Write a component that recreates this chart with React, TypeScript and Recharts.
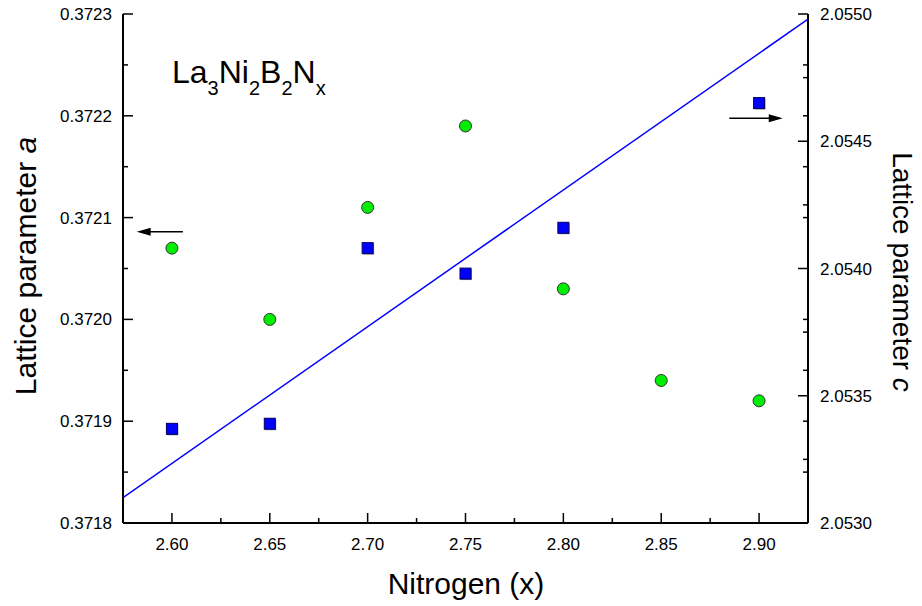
import React from "react";
import { ComposedChart, ReferenceLine, Scatter, XAxis, YAxis } from "recharts";

// nitrogen content x and lattice parameter a (left axis, nm)
const nitrogenA = [2.6, 2.65, 2.7, 2.75, 2.8, 2.85, 2.9];
const latticeA = [0.37207, 0.372, 0.37211, 0.37219, 0.37203, 0.37194, 0.37192];

// nitrogen content x and lattice parameter c (right axis)
const nitrogenC = [2.6, 2.65, 2.7, 2.75, 2.8, 2.9];
const latticeC = [2.05337, 2.05339, 2.05408, 2.05398, 2.05416, 2.05465];

// linear fit drawn against the c axis
const fitX = [2.575, 2.925];
const fitC = [2.0531, 2.05498];

// arrows pointing to the matching axis
const arrowLeftX = [2.6056, 2.582];
const arrowLeftA = 0.372086;
const arrowRightX = [2.8848, 2.9121];
const arrowRightC = 2.05459;

const xMajor = [2.6, 2.65, 2.7, 2.75, 2.8, 2.85, 2.9];
const xMinor = [2.575, 2.625, 2.675, 2.725, 2.775, 2.825, 2.875, 2.925];
const aMajor = [0.3718, 0.3719, 0.372, 0.3721, 0.3722, 0.3723];
const aMinor = [0.37185, 0.37195, 0.37205, 0.37215, 0.37225];
const cMajor = [2.053, 2.0535, 2.054, 2.0545, 2.055];
const cMinor = [2.05325, 2.05375, 2.05425, 2.05475];

const xDomain = [2.575, 2.925];
const aDomain = [0.3718, 0.3723];
const cDomain = [2.053, 2.055];

const FONT = "'Liberation Sans', Arial, sans-serif";
const MAJOR_LEN = 10;
const MINOR_LEN = 5;

const greenData = nitrogenA.map((x, i) => ({ x, a: latticeA[i] }));
const blueData = nitrogenC.map((x, i) => ({ x, c: latticeC[i] }));
const fitData = fitX.map((x, i) => ({ x, c: fitC[i] }));

// the right frame also carries the a-axis ticks (mirrored), mapped onto c
const aToC = (a: number) =>
  cDomain[0] + ((a - aDomain[0]) / (aDomain[1] - aDomain[0])) * (cDomain[1] - cDomain[0]);
const cOwn = [...cMajor, ...cMinor];
const cMirror = [...aMajor, ...aMinor]
  .map(aToC)
  .filter((v) => !cOwn.some((c) => Math.abs(c - v) < 1e-7));

const xMajorSet = new Set(xMajor);
const aMajorSet = new Set(aMajor);
const cMajorSet = new Set(cMajor);

const BottomTick = ({ x, y, payload }: any) => {
  const major = xMajorSet.has(payload.value);
  return (
    <g>
      <line x1={x} y1={y} x2={x} y2={y - (major ? MAJOR_LEN : MINOR_LEN)} stroke="#000" strokeWidth={1.5} />
      {major && (
        <text x={x} y={y + 27} textAnchor="middle" fontSize={17} fontFamily={FONT} fill="#000">
          {payload.value.toFixed(2)}
        </text>
      )}
    </g>
  );
};

const TopTick = ({ x, y, payload }: any) => {
  const major = xMajorSet.has(payload.value);
  return <line x1={x} y1={y} x2={x} y2={y + (major ? MAJOR_LEN : MINOR_LEN)} stroke="#000" strokeWidth={1.5} />;
};

const LeftTick = ({ x, y, payload }: any) => {
  const major = aMajorSet.has(payload.value);
  return (
    <g>
      <line x1={x} y1={y} x2={x + (major ? MAJOR_LEN : MINOR_LEN)} y2={y} stroke="#000" strokeWidth={1.5} />
      {major && (
        <text x={x - 11} y={y + 6} textAnchor="end" fontSize={17} fontFamily={FONT} fill="#000">
          {payload.value.toFixed(4)}
        </text>
      )}
    </g>
  );
};

const RightTick = ({ x, y, payload }: any) => {
  const major = cMajorSet.has(payload.value);
  return (
    <g>
      <line x1={x} y1={y} x2={x - (major ? MAJOR_LEN : MINOR_LEN)} y2={y} stroke="#000" strokeWidth={1.5} />
      {major && (
        <text x={x + 12} y={y + 6} textAnchor="start" fontSize={17} fontFamily={FONT} fill="#000">
          {payload.value.toFixed(4)}
        </text>
      )}
    </g>
  );
};

const Circle = ({ cx, cy }: any) => <circle cx={cx} cy={cy} r={6} fill="#00ee00" stroke="#333" strokeWidth={1} />;

const Square = ({ cx, cy }: any) => (
  <g>
    <rect x={cx - 4.5} y={cy - 4.5} width={11} height={11} fill="#999" />
    <rect x={cx - 5.5} y={cy - 5.5} width={11} height={11} fill="#0000ff" stroke="#000060" strokeWidth={1} />
  </g>
);

const NoDot = () => <g />;

const Arrow = ({ x1, y1, x2, y2 }: any) => {
  const dir = Math.sign(x2 - x1);
  return (
    <g>
      <line x1={x1} y1={y1} x2={x2 - dir * 12} y2={y2} stroke="#000" strokeWidth={1.5} />
      <path d={`M${x2},${y2} L${x2 - dir * 14},${y2 - 4} L${x2 - dir * 14},${y2 + 4} Z`} fill="#000" />
    </g>
  );
};

export default function App() {
  return (
    <div style={{ position: "absolute", left: 0, top: 0, width: 922, height: 606, background: "#fff" }}>
      <ComposedChart width={922} height={606} margin={{ top: 14, right: 0, bottom: 0, left: 0 }}>
        <XAxis
          xAxisId={0}
          type="number"
          dataKey="x"
          domain={xDomain}
          allowDataOverflow
          ticks={[...xMajor, ...xMinor]}
          interval={0}
          height={83}
          tickSize={0}
          tickMargin={0}
          tickLine={false}
          axisLine={{ stroke: "#000", strokeWidth: 2 }}
          tick={<BottomTick />}
        />
        <XAxis
          xAxisId="top"
          orientation="top"
          type="number"
          domain={xDomain}
          allowDataOverflow
          ticks={[...xMajor, ...xMinor]}
          interval={0}
          height={0}
          tickSize={0}
          tickMargin={0}
          tickLine={false}
          axisLine={{ stroke: "#000", strokeWidth: 2 }}
          tick={<TopTick />}
        />
        <YAxis
          yAxisId="a"
          orientation="left"
          type="number"
          domain={aDomain}
          allowDataOverflow
          ticks={[...aMajor, ...aMinor]}
          interval={0}
          width={123}
          tickSize={0}
          tickMargin={0}
          tickLine={false}
          axisLine={{ stroke: "#000", strokeWidth: 2 }}
          tick={<LeftTick />}
        />
        <YAxis
          yAxisId="c"
          orientation="right"
          type="number"
          domain={cDomain}
          allowDataOverflow
          ticks={[...cOwn, ...cMirror]}
          interval={0}
          width={114}
          tickSize={0}
          tickMargin={0}
          tickLine={false}
          axisLine={{ stroke: "#000", strokeWidth: 2 }}
          tick={<RightTick />}
        />
        <Scatter
          yAxisId="c"
          data={fitData}
          dataKey="c"
          line={{ stroke: "#0000ff", strokeWidth: 1.5 }}
          shape={<NoDot />}
          isAnimationActive={false}
        />
        <Scatter yAxisId="a" data={greenData} dataKey="a" shape={<Circle />} isAnimationActive={false} />
        <Scatter yAxisId="c" data={blueData} dataKey="c" shape={<Square />} isAnimationActive={false} />
        <ReferenceLine
          yAxisId="a"
          segment={[
            { x: arrowLeftX[0], y: arrowLeftA },
            { x: arrowLeftX[1], y: arrowLeftA },
          ]}
          shape={(p: any) => <Arrow {...p} />}
        />
        <ReferenceLine
          yAxisId="c"
          segment={[
            { x: arrowRightX[0], y: arrowRightC },
            { x: arrowRightX[1], y: arrowRightC },
          ]}
          shape={(p: any) => <Arrow {...p} />}
        />
        <text x={172} y={83} fontSize={32} fontFamily={FONT} fill="#000">
          La<tspan fontSize={20} dy={12}>3</tspan>
          <tspan dy={-12}>Ni</tspan>
          <tspan fontSize={20} dy={12}>2</tspan>
          <tspan dy={-12}>B</tspan>
          <tspan fontSize={20} dy={12}>2</tspan>
          <tspan dy={-12}>N</tspan>
          <tspan fontSize={20} dy={12}>x</tspan>
        </text>
        <text x={466} y={594} textAnchor="middle" fontSize={30} fontFamily={FONT} fill="#000">
          Nitrogen (x)
        </text>
        <text
          transform="translate(36,266) rotate(-90)"
          textAnchor="middle"
          fontSize={30}
          fontFamily={FONT}
          fill="#000"
        >
          Lattice parameter <tspan fontStyle="italic">a</tspan>
        </text>
        <text
          transform="translate(893,272) rotate(90)"
          textAnchor="middle"
          fontSize={28}
          fontFamily={FONT}
          fill="#000"
        >
          Lattice parameter <tspan fontStyle="italic">c</tspan>
        </text>
      </ComposedChart>
    </div>
  );
}
